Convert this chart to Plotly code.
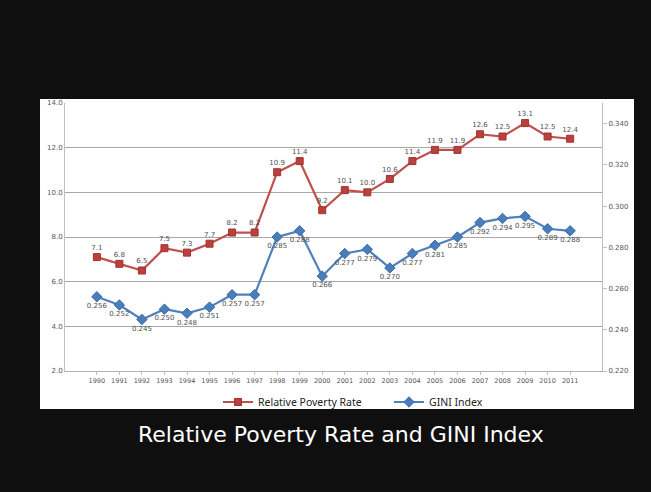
import plotly.graph_objects as go

years = [str(y) for y in range(1990, 2012)]
poverty = [7.1, 6.8, 6.5, 7.5, 7.3, 7.7, 8.2, 8.2, 10.9, 11.4, 9.2, 10.1, 10.0, 10.6,
           11.4, 11.9, 11.9, 12.6, 12.5, 13.1, 12.5, 12.4]
gini = [0.256, 0.252, 0.245, 0.250, 0.248, 0.251, 0.257, 0.257, 0.285, 0.288, 0.266,
        0.277, 0.279, 0.270, 0.277, 0.281, 0.285, 0.292, 0.294, 0.295, 0.289, 0.288]
left_ticks = [2, 4, 6, 8, 10, 12, 14]
right_ticks = [0.22, 0.24, 0.26, 0.28, 0.30, 0.32, 0.34]

W, H = 651, 492
L, R, T, B = 65, 49, 103, 121
pw, ph = W - L - R, H - T - B

def px(x):
    return (x - L) / pw

def py(y):
    return (H - B - y) / ph

fig = go.Figure()
fig.add_trace(go.Scatter(
    x=years, y=poverty, name="Relative Poverty Rate", mode="lines+markers+text",
    line=dict(color="#c0504d", width=2.2),
    marker=dict(symbol="square", size=7, color="#b8403d", line=dict(color="#a33330", width=1)),
    text=[f"{v:.1f}" for v in poverty], textposition="top center",
    textfont=dict(size=7, color="#505050", family="DejaVu Sans"),
))
fig.add_trace(go.Scatter(
    x=years, y=gini, name="GINI Index", mode="lines+markers+text", yaxis="y2",
    line=dict(color="#4f81bd", width=2.2),
    marker=dict(symbol="diamond", size=8, color="#4a7ebb", line=dict(color="#3a6aa5", width=1)),
    text=[f"{v:.3f}" for v in gini], textposition="bottom center",
    textfont=dict(size=7, color="#505050", family="DejaVu Sans"),
))

fig.add_shape(type="rect", xref="paper", yref="paper",
              x0=px(40), x1=px(634), y0=py(409), y1=py(99),
              fillcolor="white", line=dict(width=0), layer="below")

fig.add_annotation(text="Relative Poverty Rate and GINI Index", xref="paper", yref="paper",
                   x=px(341), y=py(434), showarrow=False, xanchor="center", yanchor="middle",
                   font=dict(size=22, color="white", family="DejaVu Sans"))

fig.update_layout(
    width=W, height=H, margin=dict(l=L, r=R, t=T, b=B),
    paper_bgcolor="#0f0f0f", plot_bgcolor="white",
    font=dict(family="DejaVu Sans", color="#555555"),
    showlegend=True,
    legend=dict(orientation="h", x=px(218), xanchor="left", y=py(402), yanchor="middle",
                bgcolor="rgba(0,0,0,0)", font=dict(size=10.5, color="#222222", family="Noto Sans"),
                itemwidth=30, entrywidth=126, entrywidthmode="pixels", tracegroupgap=0),
    xaxis=dict(type="category", showgrid=False, showline=True, linecolor="#b0b0b0",
               ticks="outside", ticklen=3, tickcolor="#c0c0c0",
               tickfont=dict(size=6.5, color="#555555"), zeroline=False),
    yaxis=dict(range=[2, 14], tickvals=left_ticks,
               ticktext=[f"{v:.1f}" for v in left_ticks],
               showgrid=True, gridcolor="#a8a8a8", gridwidth=1,
               showline=True, linecolor="#c0c0c0", zeroline=False,
               tickfont=dict(size=7, color="#555555")),
    yaxis2=dict(range=[0.22, 0.35], tickvals=right_ticks,
                ticktext=[f"{v:.3f}" for v in right_ticks],
                overlaying="y", side="right", showgrid=False,
                showline=True, linecolor="#c0c0c0", zeroline=False,
                ticks="outside", ticklen=4, tickcolor="#c0c0c0",
                tickfont=dict(size=7, color="#555555")),
)

fig.write_html("out.html")
